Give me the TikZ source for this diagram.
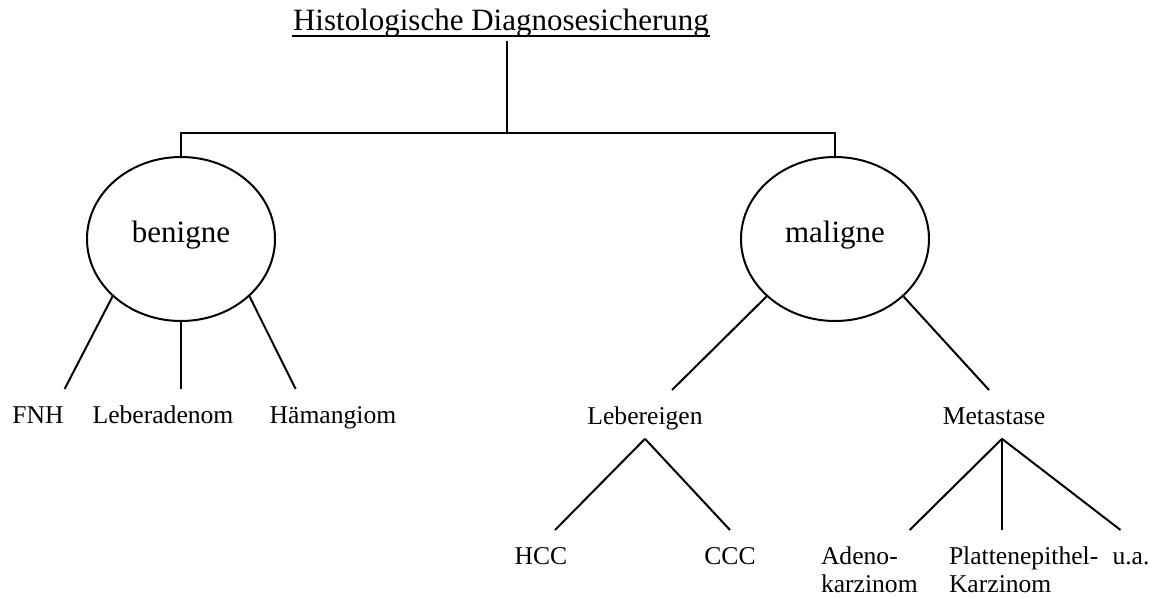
\documentclass[tikz,border=0pt]{standalone}
\usepackage{fontspec}
\setmainfont{Liberation Serif}
\usetikzlibrary{shapes.geometric}
\newcommand{\bigfont}{\fontsize{31}{37}\selectfont}
\newcommand{\lblfont}{\fontsize{25.6}{28}\selectfont}
\tikzset{
  klasse/.style={draw, ellipse, line width=2pt, minimum width=188pt, minimum height=164pt,
    inner sep=0pt, font=\bigfont, text height=21.4pt, text depth=15.4pt},
  lbl/.style={anchor=base, inner xsep=0pt, inner ysep=13.8pt, text height=19.2pt,
    text depth=0pt, font=\lblfont},
}
\begin{document}
\begin{tikzpicture}[x=1pt, y=-1pt, line width=2pt]
\useasboundingbox (0,0) rectangle (1165,598);

\node[anchor=base, inner sep=0pt, text depth=0pt, font=\bigfont] (titel) at (501,30) {Histologische Diagnosesicherung};
\draw[line width=1.8pt] ([yshift=-5pt]titel.south west) -- ([yshift=-5pt]titel.south east);

\node[klasse] (benigne) at (181,239) {benigne};
\node[klasse] (maligne) at (835,239) {maligne};

\coordinate (wurzel) at (507,133);
\draw ([yshift=-10pt]titel.south -| wurzel) -- (wurzel);
\draw[line width=2.4pt] (benigne.north) |- (wurzel) -| (maligne.north);

% erste Ebene
\node[lbl] (fnh) at (38,423) {FNH};
\node[lbl] (leberadenom) at (163,423) {Leberadenom};
\node[lbl] (haemangiom) at (333,423) {Hämangiom};
\node[lbl] (lebereigen) at (645,424) {Lebereigen};
\node[lbl] (metastase) at (994,424) {Metastase};

% zweite Ebene
\node[lbl] (hcc) at (541,564) {HCC};
\node[lbl] (ccc) at (730,564) {CCC};
\node[lbl, anchor=base west] (adeno) at (820,564) {\begin{tabular}[t]{@{}l@{}}Adeno-\\karzinom\end{tabular}};
\node[lbl, anchor=base west] (platten) at (948,564) {\begin{tabular}[t]{@{}l@{}}Plattenepithel-\\Karzinom\end{tabular}};
\node[lbl] (ua) at (1131,564) {u.a.};

\draw (benigne.220) -- (fnh.north east);
\draw (benigne.south) -- (benigne.south |- leberadenom.north);
\draw (benigne.320) -- ([xshift=27pt]haemangiom.north west);

\draw (maligne.220) -- ([xshift=27pt]lebereigen.north);
\draw (maligne.320) -- ([xshift=-5pt]metastase.north);

\draw (lebereigen.south) -- ([xshift=14pt]hcc.north);
\draw (lebereigen.south) -- (ccc.north);

\coordinate (gabel) at ([xshift=8pt]metastase.south);
\draw (gabel) -- ([xshift=-9pt]adeno.north east);
\draw (gabel) -- (gabel |- platten.north);
\draw (gabel) -- ([xshift=9pt]ua.north west);

\end{tikzpicture}
\end{document}
